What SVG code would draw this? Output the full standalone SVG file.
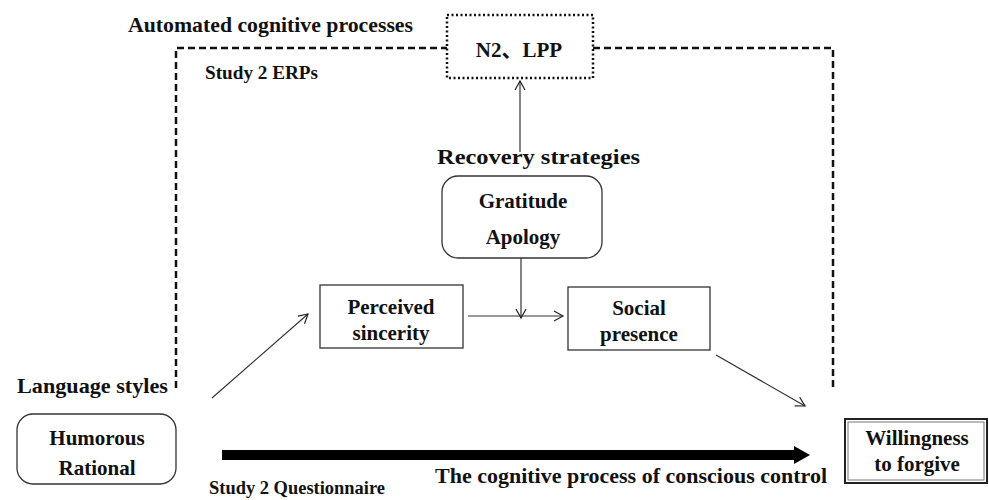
<svg xmlns="http://www.w3.org/2000/svg" width="989" height="500" viewBox="0 0 989 500">
<defs>
<marker id="ah" markerWidth="12" markerHeight="12" refX="10" refY="6" orient="auto" markerUnits="userSpaceOnUse">
<path d="M1,1 L10,6 L1,11" fill="none" stroke="#222" stroke-width="1.2"/>
</marker>
</defs>
<style>
text{font-family:"Liberation Serif","Times New Roman",serif;font-weight:bold;fill:#111;}
.lbl{font-size:21px;}
.nt{font-size:21px;text-anchor:middle;}
.box{fill:#fff;stroke:#333;stroke-width:1.3;}
.conn{stroke:#333;stroke-width:1.2;fill:none;}
.dash{stroke:#111;stroke-width:2.5;fill:none;stroke-dasharray:7,4;}
</style>
<rect width="989" height="500" fill="#fff"/>
<g id="connectors">
<polyline class="dash" points="176,388 176,48 447,48"/>
<polyline class="dash" points="593,48 833,48 833,388"/>
<line class="conn" x1="520" y1="152" x2="520" y2="81" marker-end="url(#ah)"/>
<line class="conn" x1="521" y1="258" x2="521" y2="318" marker-end="url(#ah)"/>
<line class="conn" x1="468" y1="316" x2="563" y2="316" marker-end="url(#ah)"/>
<line class="conn" x1="212" y1="398" x2="308" y2="314" marker-end="url(#ah)"/>
<line class="conn" x1="716" y1="355" x2="805" y2="406" marker-end="url(#ah)"/>
<line x1="222" y1="455" x2="796" y2="455" stroke="#000" stroke-width="10"/>
<path d="M794,446 L810,455 L794,464 Z" fill="#000"/>
</g>
<g id="labels">
<text class="lbl" x="128" y="32" textLength="285" lengthAdjust="spacingAndGlyphs">Automated cognitive processes</text>
<text class="lbl" x="205" y="79" style="font-size:19px" textLength="113" lengthAdjust="spacingAndGlyphs">Study 2 ERPs</text>
<text class="lbl" x="437" y="164" textLength="203" lengthAdjust="spacingAndGlyphs">Recovery strategies</text>
<text class="lbl" x="17" y="393" textLength="151" lengthAdjust="spacingAndGlyphs">Language styles</text>
<text class="lbl" x="209" y="494" style="font-size:18px" textLength="176" lengthAdjust="spacingAndGlyphs">Study 2 Questionnaire</text>
<text class="lbl" x="435" y="483" textLength="392" lengthAdjust="spacingAndGlyphs">The cognitive process of conscious control</text>
</g>
<g id="n2lpp">
<rect x="447" y="15" width="146" height="63" fill="#fff" stroke="#111" stroke-width="2.5" stroke-dasharray="2,2.5"/>
<text class="nt" x="519" y="57" style="font-family:'Liberation Serif','Noto Sans CJK SC',serif">N2、LPP</text>
</g>
<g id="recovery">
<rect class="box" x="442" y="176" width="160" height="82" rx="16"/>
<text class="nt" x="523" y="208">Gratitude</text>
<text class="nt" x="523" y="244">Apology</text>
</g>
<g id="sincerity">
<rect class="box" x="320" y="285" width="143" height="63"/>
<text class="nt" x="391" y="314">Perceived</text>
<text class="nt" x="391" y="340">sincerity</text>
</g>
<g id="social">
<rect class="box" x="568" y="287" width="142" height="63"/>
<text class="nt" x="639" y="315">Social</text>
<text class="nt" x="639" y="341">presence</text>
</g>
<g id="language">
<rect class="box" x="17" y="414" width="159" height="70" rx="16"/>
<text class="nt" x="97" y="445">Humorous</text>
<text class="nt" x="97" y="475">Rational</text>
</g>
<g id="forgive">
<rect x="845" y="419" width="142" height="64" fill="#fff" stroke="#222" stroke-width="2"/>
<rect x="848" y="422" width="136" height="58" fill="none" stroke="#555" stroke-width="0.8"/>
<text class="nt" x="917" y="445">Willingness</text>
<text class="nt" x="917" y="471">to forgive</text>
</g>
</svg>
